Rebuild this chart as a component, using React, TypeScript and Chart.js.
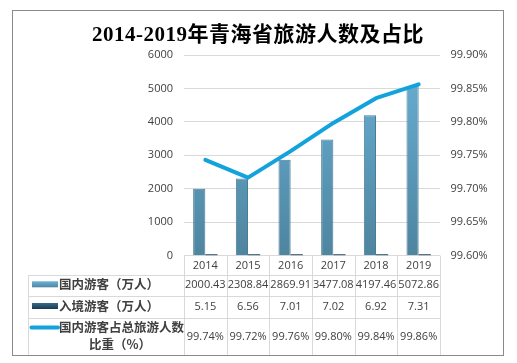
import React, { useEffect, useRef } from "react";
import { Chart, registerables } from "chart.js";
Chart.register(...registerables);

const title = "2014-2019年青海省旅游人数及占比";
const years = ["2014", "2015", "2016", "2017", "2018", "2019"];
const domestic = [2000.43, 2308.84, 2869.91, 3477.08, 4197.46, 5072.86];
const inbound = [5.15, 6.56, 7.01, 7.02, 6.92, 7.31];
const share = [99.7432, 99.7167, 99.7563, 99.7985, 99.8354, 99.8561];
const seriesNames = ["国内游客（万人）", "入境游客（万人）", "国内游客占总旅游人数", "比重（%）"];

const GRID = "#d9d9d9";
const TEXT = "#404040";
const CJK = '"Noto Sans CJK SC", "Noto Sans", sans-serif';
const NUM = '"Open Sans", "Noto Sans CJK SC", sans-serif';

function barGrad(c: CanvasRenderingContext2D, top: number, bottom: number, a: string, b: string) {
  const g = c.createLinearGradient(0, top, 0, bottom);
  g.addColorStop(0, a);
  g.addColorStop(1, b);
  return g;
}

const tablePlugin = {
  id: "tablePlugin",
  beforeDraw(chart: any) {
    const c = chart.ctx as CanvasRenderingContext2D;
    c.save();
    c.fillStyle = "#ffffff";
    c.fillRect(0, 0, chart.width, chart.height);
    c.restore();
  },
  afterDraw(chart: any) {
    const c = chart.ctx as CanvasRenderingContext2D;
    const ca = chart.chartArea;
    const xs = chart.scales.x;
    const n = years.length;
    const cw = (ca.right - ca.left) / n;
    const tableLeft = 28.5;
    const r0 = ca.bottom;
    const r1 = r0 + 19.5;
    const r2 = r1 + 21.2;
    const r3 = r2 + 21.2;
    const r4 = 355;
    c.save();
    // title
    c.fillStyle = "#000000";
    c.font = 'bold 21px "Liberation Serif", "Noto Sans CJK SC", serif';
    c.textAlign = "center";
    c.textBaseline = "middle";
    (c as any).letterSpacing = "0.5px";
    c.fillText(title, 258, 35.5);
    (c as any).letterSpacing = "0px";

    // grid of table
    c.strokeStyle = GRID;
    c.lineWidth = 1;
    c.beginPath();
    for (let i = 0; i <= n; i++) {
      const x = Math.round(ca.left + i * cw) + 0.5;
      c.moveTo(x, r0);
      c.lineTo(x, r4);
    }
    [r1, r2, r3].forEach((y) => {
      const yy = Math.round(y) + 0.5;
      c.moveTo(tableLeft, yy);
      c.lineTo(ca.right, yy);
    });
    c.moveTo(tableLeft, Math.round(r1) + 0.5);
    c.lineTo(tableLeft, r4);
    c.stroke();

    // year labels + values
    c.fillStyle = TEXT;
    c.textAlign = "center";
    c.textBaseline = "middle";
    c.font = `11px ${NUM}`;
    for (let i = 0; i < n; i++) {
      const x = xs.getPixelForValue(i);
      c.fillText(years[i], x, (r0 + r1) / 2);
      c.fillText(domestic[i].toFixed(2), x, (r1 + r2) / 2 - 0.5);
      c.fillText(inbound[i].toFixed(2), x, (r2 + r3) / 2 - 0.5);
      c.fillText(share[i].toFixed(2) + "%", x, (r3 + r4) / 2 + 0.5);
    }

    // legend keys
    const kx0 = 32;
    const kx1 = 58;
    const y2 = (r1 + r2) / 2 - 1.5;
    c.fillStyle = barGrad(c, y2 - 3, y2 + 3, "#6db1d6", "#4d86a3");
    c.fillRect(kx0, y2 - 3, kx1 - kx0, 6);
    const y3 = (r2 + r3) / 2 - 1;
    c.fillStyle = barGrad(c, y3 - 3, y3 + 3, "#3a6a88", "#17394e");
    c.fillRect(kx0, y3 - 3, kx1 - kx0, 6);
    const y4 = r3 + 10;
    c.strokeStyle = "#12a3dd";
    c.lineWidth = 4;
    c.lineCap = "round";
    c.beginPath();
    c.moveTo(kx0 - 0.5, y4);
    c.lineTo(kx1, y4);
    c.stroke();

    // legend texts
    c.fillStyle = TEXT;
    c.font = `bold 12.5px ${CJK}`;
    c.textAlign = "left";
    c.fillText(seriesNames[0], 59, y2);
    c.fillText(seriesNames[1], 59, y3);
    c.fillText(seriesNames[2], 59, y4);
    c.textAlign = "center";
    c.fillText(seriesNames[3], 120, y4 + 17);

    // outer border
    c.strokeStyle = "#8a8a8a";
    c.lineWidth = 1;
    c.strokeRect(12.5, 10.5, 491, 345);
    c.restore();
  },
};

export default function App() {
  const ref = useRef<HTMLCanvasElement | null>(null);
  useEffect(() => {
    document.body.style.margin = "0";
    const canvas = ref.current!;
    const chart = new Chart(canvas, {
      type: "bar",
      data: {
        labels: years,
        datasets: [
          {
            type: "line",
            label: seriesNames[2] + seriesNames[3],
            data: share,
            yAxisID: "y1",
            borderColor: "#12a3dd",
            borderWidth: 4,
            pointRadius: 0,
            tension: 0,
            borderCapStyle: "round",
            borderJoinStyle: "round",
            order: 0,
          } as any,
          {
            type: "bar",
            label: seriesNames[0],
            data: domestic,
            yAxisID: "y",
            backgroundColor: (ctx: any) => {
              const ca = ctx.chart.chartArea;
              if (!ca) return "#5f9fc2";
              return barGrad(ctx.chart.ctx, ca.top, ca.bottom, "#6ab0d6", "#4e859f");
            },
            borderColor: "#4a7c96",
            borderWidth: 1,
            categoryPercentage: 0.571,
            barPercentage: 1,
            order: 1,
          },
          {
            type: "bar",
            label: seriesNames[1],
            data: inbound,
            yAxisID: "y",
            backgroundColor: "#1f4760",
            borderColor: "#1f4760",
            borderWidth: 0,
            minBarLength: 1.5,
            categoryPercentage: 0.571,
            barPercentage: 1,
            order: 1,
          },
        ],
      },
      options: {
        responsive: false,
        animation: false,
        devicePixelRatio: 1,
        layout: { padding: { top: 55, bottom: 107.3, left: 0, right: 0 } },
        plugins: { legend: { display: false }, title: { display: false }, tooltip: { enabled: false } },
        scales: {
          x: { display: false, grid: { display: false } },
          y: {
            position: "left",
            min: 0,
            max: 6000,
            ticks: {
              stepSize: 1000,
              padding: 11,
              color: TEXT,
              font: { family: NUM, size: 11 },
              callback: (v: any) => String(v),
            },
            grid: { color: GRID, drawTicks: false },
            border: { display: false },
            afterFit: (s: any) => {
              s.width = 184;
            },
          },
          y1: {
            position: "right",
            min: 99.6,
            max: 99.9,
            ticks: {
              stepSize: 0.05,
              padding: 10.5,
              color: TEXT,
              font: { family: NUM, size: 11 },
              callback: (v: any) => Number(v).toFixed(2) + "%",
            },
            grid: { display: false, drawTicks: false },
            border: { display: false },
            afterFit: (s: any) => {
              s.width = 77;
            },
          },
        },
      } as any,
      plugins: [tablePlugin],
    });
    return () => chart.destroy();
  }, []);
  return (
    <div style={{ position: "absolute", left: 0, top: 0, width: 517, height: 363 }}>
      <canvas ref={ref} width={517} height={363} />
    </div>
  );
}
